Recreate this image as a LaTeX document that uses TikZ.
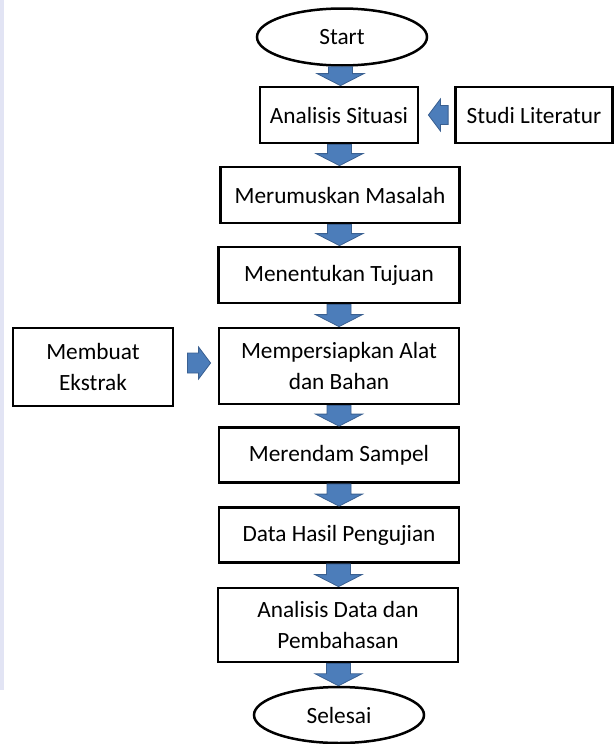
\documentclass[tikz,border=0pt]{standalone}
\usepackage{fontspec}
\setmainfont{Carlito}
\usetikzlibrary{shapes.geometric,calc}
\definecolor{arrfill}{RGB}{76,125,186}
\definecolor{arrline}{RGB}{58,96,145}
\definecolor{wmark}{RGB}{226,228,244}
\tikzset{
  box/.style={draw=black, line width=2.8pt, fill=white, minimum height=56pt,
    inner sep=0pt, align=center, font=\fontsize{23.3}{31.5}\selectfont},
  oval/.style={ellipse, draw=black, line width=2.5pt, fill=white, inner sep=0pt,
    font=\fontsize{23.3}{31.5}\selectfont},
  blk/.style={fill=arrfill, draw=arrline, line width=0.8pt, line join=miter}
}
\newcommand{\blkdown}[2]{%
  \draw[blk] let \p1=(#1.south), \p2=(#2.north), \n1={(\x1+\x2)/2} in
    (\n1-12pt,\y1) -- (\n1-12pt,\y2+12pt) -- (\n1-23.5pt,\y2+12pt) --
    (\n1+0pt,\y2) -- (\n1+23.5pt,\y2+12pt) -- (\n1+12pt,\y2+12pt) --
    (\n1+12pt,\y1) -- cycle;}
\begin{document}
\begin{tikzpicture}[x=1pt,y=-1pt]
\useasboundingbox (0,0) rectangle (614,744);
\fill[wmark] (0,0) rectangle (4,690);
\node[oval, minimum width=170pt, minimum height=57pt] (start) at (342,37) {Start};
\node[box, minimum width=158pt] (as) at (339,115) {Analisis Situasi};
\node[box, minimum width=157pt] (sl) at (534,115) {Studi Literatur};
\node[box, minimum width=239pt] (mm) at (340,195) {Merumuskan Masalah};
\node[box, minimum width=241pt] (mt) at (339,275) {Menentukan Tujuan};
\node[box, minimum width=240pt, minimum height=76pt] (ma) at (339,366) {Mempersiapkan Alat\\dan Bahan};
\node[box, minimum width=160pt, minimum height=78pt] (me) at (93,367) {Membuat\\Ekstrak};
\node[box, minimum width=240pt, minimum height=55pt] (ms) at (339,455) {Merendam Sampel};
\node[box, minimum width=240pt, minimum height=55pt] (dh) at (339,535) {Data Hasil Pengujian};
\node[box, minimum width=240pt, minimum height=74pt] (ad) at (338,625) {Analisis Data dan\\Pembahasan};
\node[oval, minimum width=170pt, minimum height=56pt] (sel) at (339,715) {Selesai};
\blkdown{start}{as}
\blkdown{as}{mm}
\blkdown{mm}{mt}
\blkdown{mt}{ma}
\blkdown{ma}{ms}
\blkdown{ms}{dh}
\blkdown{dh}{ad}
\blkdown{ad}{sel}
% Studi Literatur -> Analisis Situasi
\draw[blk] let \p1=(sl.west), \p2=(as.east) in
  (\x1-6pt,\y1+9.5pt) -- (\x2+21pt,\y1+9.5pt) -- (\x2+21pt,\y1+16pt) --
  (\x2+9pt,\y1) -- (\x2+21pt,\y1-16pt) -- (\x2+21pt,\y1-9.5pt) --
  (\x1-6pt,\y1-9.5pt) -- cycle;
% Membuat Ekstrak -> Mempersiapkan
\draw[blk] let \p1=(me.east), \p2=(ma.west) in
  (\x1+13pt,\y2+13pt) -- (\x2-19pt,\y2+13pt) -- (\x2-19pt,\y2+19pt) --
  (\x2-7pt,\y2+3pt) -- (\x2-19pt,\y2-13pt) -- (\x2-19pt,\y2-7pt) --
  (\x1+13pt,\y2-7pt) -- cycle;
\end{tikzpicture}
\end{document}
